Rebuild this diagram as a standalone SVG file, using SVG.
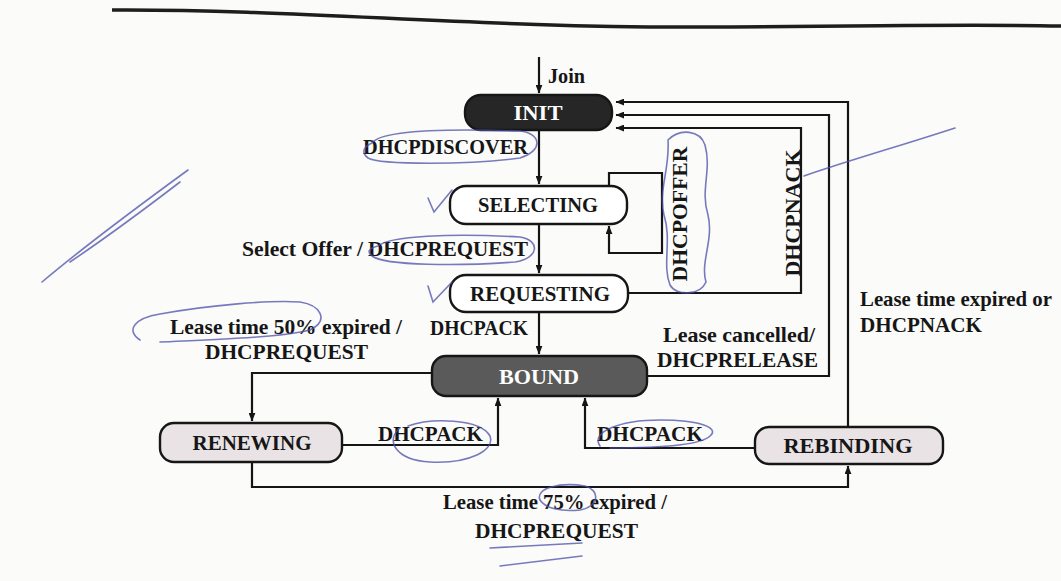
<svg xmlns="http://www.w3.org/2000/svg" width="1061" height="581" viewBox="0 0 1061 581">
  <defs>
    <marker id="arrow" viewBox="0 0 10 8" refX="9.5" refY="4" markerWidth="9" markerHeight="7" markerUnits="userSpaceOnUse" orient="auto">
      <path d="M0,0 L10,4 L0,8 Z" fill="#151515"/>
    </marker>
    <style>
      .state { stroke: #161616; stroke-width: 2.4; }
      .dark { fill: #262626; }
      .mid { fill: #5a5a5a; }
      .white { fill: #ffffff; }
      .pale { fill: #e9e3e5; }
      .lbl { font-family: "Liberation Serif", "Times New Roman", serif; font-size: 22px; fill: #161616; font-weight: bold; }
      .name { font-family: "Liberation Serif", "Times New Roman", serif; font-size: 22px; fill: #161616; font-weight: bold; }
      .inv { fill: #ffffff; }
      .wire { fill: none; stroke: #151515; stroke-width: 2.2; }
      .pen { fill: none; stroke: #4a4fa8; stroke-width: 1.6; stroke-linecap: round; opacity: 0.75; }
    </style>
  </defs>

  <rect width="1061" height="581" fill="#fbfbfa"/>

  <!-- page rule along the top -->
  <path d="M112,10 C300,9 480,28 700,27 S960,24 1061,26" fill="none" stroke="#1e1e1e" stroke-width="3.5"/>

  <!-- transitions -->
  <g id="connectors">
    <path class="wire" d="M539,57 V93" marker-end="url(#arrow)"/>
    <path class="wire" d="M539,130 V184" marker-end="url(#arrow)"/>
    <path class="wire" d="M539,224 V273" marker-end="url(#arrow)"/>
    <path class="wire" d="M539,312 V354" marker-end="url(#arrow)"/>
    <!-- DHCPOFFER self-loop on SELECTING -->
    <path class="wire" d="M609,186 V173 H662 V253 H609 V226" marker-end="url(#arrow)"/>
    <!-- back to INIT -->
    <path class="wire" d="M628,293 H801 V128 H616" marker-end="url(#arrow)"/>
    <path class="wire" d="M647,376 H829 V115 H616" marker-end="url(#arrow)"/>
    <path class="wire" d="M848,427 V102 H616" marker-end="url(#arrow)"/>
    <!-- BOUND / RENEWING / REBINDING -->
    <path class="wire" d="M432,373 H252 V421" marker-end="url(#arrow)"/>
    <path class="wire" d="M342,445 H498 V398" marker-end="url(#arrow)"/>
    <path class="wire" d="M755,448 H585 V398" marker-end="url(#arrow)"/>
    <path class="wire" d="M252,462 V487 H848 V466" marker-end="url(#arrow)"/>
  </g>

  <g id="init">
    <rect class="state dark" x="465" y="95" width="147" height="35" rx="16"/>
    <text class="name inv" x="538" y="120" text-anchor="middle" textLength="49" lengthAdjust="spacingAndGlyphs">INIT</text>
  </g>
  <g id="selecting">
    <rect class="state white" x="450" y="186" width="177" height="38" rx="16"/>
    <text class="name" x="538" y="212" text-anchor="middle" textLength="120" lengthAdjust="spacingAndGlyphs">SELECTING</text>
  </g>
  <g id="requesting">
    <rect class="state white" x="450" y="275" width="178" height="37" rx="16"/>
    <text class="name" x="540" y="301" text-anchor="middle" textLength="140" lengthAdjust="spacingAndGlyphs">REQUESTING</text>
  </g>
  <g id="bound">
    <rect class="state mid" x="432" y="356" width="215" height="40" rx="14"/>
    <text class="name inv" x="539" y="384" text-anchor="middle" textLength="80" lengthAdjust="spacingAndGlyphs">BOUND</text>
  </g>
  <g id="renewing">
    <rect class="state pale" x="160" y="423" width="182" height="39" rx="14"/>
    <text class="name" x="252" y="450" text-anchor="middle" textLength="119" lengthAdjust="spacingAndGlyphs">RENEWING</text>
  </g>
  <g id="rebinding">
    <rect class="state pale" x="755" y="427" width="188" height="37" rx="14"/>
    <text class="name" x="848" y="453" text-anchor="middle" textLength="129" lengthAdjust="spacingAndGlyphs">REBINDING</text>
  </g>

  <!-- transition labels -->
  <g id="labels">
    <text class="lbl" x="548" y="83" textLength="37" lengthAdjust="spacingAndGlyphs">Join</text>
    <text class="lbl" x="363" y="154" textLength="165" lengthAdjust="spacingAndGlyphs">DHCPDISCOVER</text>
    <text class="lbl" x="242" y="256" textLength="121" lengthAdjust="spacingAndGlyphs">Select Offer /</text>
    <text class="lbl" x="368" y="256" textLength="160" lengthAdjust="spacingAndGlyphs">DHCPREQUEST</text>
    <text class="lbl" x="430" y="335" textLength="98" lengthAdjust="spacingAndGlyphs">DHCPACK</text>
    <text class="lbl" x="170" y="334" textLength="232" lengthAdjust="spacingAndGlyphs">Lease time 50% expired /</text>
    <text class="lbl" x="205" y="359" textLength="163" lengthAdjust="spacingAndGlyphs">DHCPREQUEST</text>
    <text class="lbl" x="663" y="342" textLength="152" lengthAdjust="spacingAndGlyphs">Lease cancelled/</text>
    <text class="lbl" x="657" y="367" textLength="161" lengthAdjust="spacingAndGlyphs">DHCPRELEASE</text>
    <text class="lbl" x="860" y="306" textLength="192" lengthAdjust="spacingAndGlyphs">Lease time expired or</text>
    <text class="lbl" x="860" y="332" textLength="122" lengthAdjust="spacingAndGlyphs">DHCPNACK</text>
    <text class="lbl" x="378" y="441" textLength="105" lengthAdjust="spacingAndGlyphs">DHCPACK</text>
    <text class="lbl" x="597" y="441" textLength="106" lengthAdjust="spacingAndGlyphs">DHCPACK</text>
    <text class="lbl" x="443" y="509" textLength="224" lengthAdjust="spacingAndGlyphs">Lease time 75% expired /</text>
    <text class="lbl" x="475" y="538" textLength="163" lengthAdjust="spacingAndGlyphs">DHCPREQUEST</text>
    <text class="lbl" transform="translate(687,214) rotate(-90)" text-anchor="middle" textLength="135" lengthAdjust="spacingAndGlyphs">DHCPOFFER</text>
    <text class="lbl" transform="translate(800,213) rotate(-90)" text-anchor="middle" textLength="127" lengthAdjust="spacingAndGlyphs">DHCPNACK</text>
  </g>

  <!-- ballpoint marks over the page -->
  <g id="pen-marks">
    <path class="pen" d="M372,143 C380,132 430,128 520,131 C540,133 545,150 520,158 C470,165 380,165 368,158 C360,152 365,146 372,143"/>
    <path class="pen" d="M378,246 C390,236 450,233 520,237 C540,240 540,258 515,262 C460,266 385,266 372,256 C366,251 370,248 378,246"/>
    <path class="pen" d="M140,340 C125,330 135,318 160,314 C210,305 270,300 300,302 C320,305 330,320 310,330 C280,338 200,340 160,342"/>
    <path class="pen" d="M668,140 C680,128 700,130 705,145 C712,170 700,190 708,215 C714,240 700,262 706,282 C700,296 676,296 670,285 C662,265 672,240 664,215 C658,190 670,170 668,140"/>
    <path class="pen" d="M400,428 C385,440 395,460 430,462 C470,464 495,450 490,436 C480,418 430,418 408,426"/>
    <path class="pen" d="M600,446 C590,432 620,420 660,420 C700,420 720,428 710,436 C700,446 650,448 610,448"/>
    <path class="pen" d="M540,500 C535,488 560,482 585,486 C600,490 600,506 580,510 C560,512 545,508 540,500"/>
    <path class="pen" d="M490,548 L582,543 M500,566 L582,556"/>
    <path class="pen" d="M428,198 L434,212 L452,190"/>
    <path class="pen" d="M428,286 L433,302 L452,282"/>
    <path class="pen" d="M804,176 C850,160 900,146 955,128"/>
    <path class="pen" d="M42,282 C80,250 140,205 188,170 M70,262 C110,235 150,205 180,182"/>
  </g>
</svg>
